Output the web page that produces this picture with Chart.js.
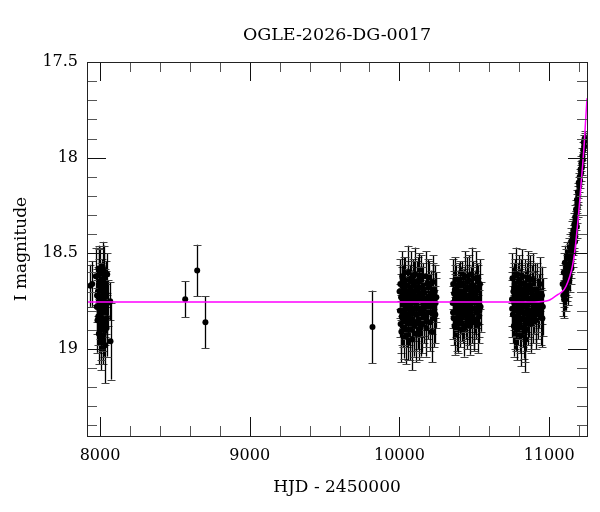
<!DOCTYPE html>
<html>
<head>
<meta charset="utf-8">
<title>OGLE-2026-DG-0017</title>
<script src="https://cdn.jsdelivr.net/npm/chart.js@4.4.1/dist/chart.umd.min.js"></script>
<style>
  html, body { margin: 0; padding: 0; background: #fff; }
  #wrap { width: 600px; height: 512px; }
</style>
</head>
<body>
<div id="wrap"><canvas id="chart"></canvas></div>
<script>
// OGLE photometry, HJD - 2450000 / I mag / error
const hjd = [
  // 2017/18
  7935, 7948, 7972, 7978, 7983, 7986, 7990, 7992, 7995, 7997,
  7999, 8001, 8003, 8005, 8006, 8008, 8010, 8012, 8014, 8015,
  8017, 8019, 8021, 8023, 8025, 8027, 8029, 8031, 8033, 8035,
  8037, 8039, 8042, 8045, 8048, 8050, 8068, 8070,
  7980, 7988, 7994, 8000, 8004, 8009, 8013, 8018, 8024, 8030,
  8036, 8044,
  // sparse
  8569, 8649, 8704, 9820,
  // 2023
  10003, 10006, 10008, 10011, 10013, 10016, 10019, 10021, 10024, 10027,
  10030, 10033, 10036, 10039, 10042, 10045, 10048, 10051, 10054, 10057,
  10060, 10063, 10066, 10069, 10072, 10075, 10078, 10081, 10084, 10087,
  10090, 10093, 10096, 10099, 10102, 10105, 10108, 10111, 10114, 10117,
  10120, 10123, 10126, 10129, 10132, 10135, 10140, 10145, 10150, 10155,
  10160, 10165, 10170, 10175, 10180, 10186, 10192, 10198, 10205, 10212,
  10218, 10224, 10230, 10236, 10242, 10247,
  10001, 10015, 10028, 10044, 10058, 10071, 10083, 10097, 10109, 10121,
  10134, 10142, 10152, 10163, 10177, 10189, 10201, 10215, 10227, 10240,
  // 2024
  10356, 10359, 10362, 10365, 10368, 10371, 10374, 10377, 10380, 10383,
  10386, 10389, 10392, 10395, 10398, 10402, 10406, 10410, 10414, 10418,
  10422, 10426, 10430, 10434, 10438, 10442, 10446, 10450, 10454, 10458,
  10462, 10466, 10470, 10474, 10478, 10482, 10486, 10490, 10494, 10498,
  10502, 10506, 10510, 10514, 10518, 10522, 10526, 10530, 10534, 10538,
  10542,
  10358, 10370, 10382, 10394, 10404, 10416, 10428, 10440, 10452, 10464,
  10476, 10488, 10500, 10516, 10532,
  // 2025
  10752, 10755, 10758, 10761, 10764, 10767, 10770, 10773, 10776, 10779,
  10782, 10785, 10788, 10791, 10794, 10797, 10800, 10803, 10806, 10809,
  10812, 10815, 10818, 10821, 10824, 10827, 10830, 10833, 10836, 10839,
  10842, 10845, 10848, 10851, 10854, 10857, 10860, 10864, 10868, 10872,
  10876, 10880, 10885, 10890, 10895, 10900, 10906, 10912, 10918, 10924,
  10930, 10938, 10945, 10952, 10958,
  10753, 10766, 10778, 10789, 10801, 10813, 10825, 10837, 10849, 10861,
  10870, 10882, 10893, 10904, 10915, 10927, 10942, 10955,
  // 2026 rise
  11090, 11095, 11098, 11102, 11105, 11108, 11111, 11114, 11117, 11120,
  11123, 11126, 11129, 11132, 11135, 11138, 11141, 11144, 11147, 11150,
  11153, 11156, 11159, 11162, 11165, 11168, 11171, 11174, 11177, 11180,
  11183, 11186, 11189, 11192, 11195, 11198, 11201, 11204, 11207, 11210,
  11213, 11216, 11219, 11222, 11225, 11228, 11231, 11234, 11237, 11240,
  11100, 11106, 11112, 11119, 11125, 11131, 11137, 11143, 11149, 11155,
  11161, 11167, 11173, 11179, 11185, 11191
];
const mag = [
  18.67, 18.66, 18.62, 18.78, 18.85, 18.70, 18.58, 18.92, 18.66, 18.80,
  18.74, 18.88, 18.60, 18.83, 18.69, 18.95, 18.77, 18.64, 18.87, 18.72,
  18.57, 18.81, 18.93, 18.68, 18.76, 18.90, 18.62, 18.85, 18.73, 18.98,
  18.66, 18.79, 18.71, 18.84, 18.61, 18.76, 18.75, 18.96,
  18.72, 18.83, 18.61, 18.78, 18.90, 18.67, 18.75, 18.86, 18.59, 18.80,
  18.70, 18.89,
  18.74, 18.59, 18.86, 18.885,
  18.80, 18.66, 18.87, 18.73, 18.91, 18.70, 18.62, 18.84, 18.76, 18.68,
  18.89, 18.74, 18.81, 18.64, 18.78, 18.93, 18.71, 18.85, 18.67, 18.79,
  18.60, 18.83, 18.75, 18.90, 18.69, 18.77, 18.63, 18.86, 18.72, 18.95,
  18.80, 18.66, 18.74, 18.88, 18.70, 18.61, 18.82, 18.76, 18.92, 18.68,
  18.79, 18.65, 18.85, 18.73, 18.90, 18.71, 18.80, 18.64, 18.87, 18.75,
  18.69, 18.83, 18.77, 18.62, 18.89, 18.74, 18.81, 18.67, 18.86, 18.72,
  18.78, 18.65, 18.84, 18.70, 18.76, 18.73,
  18.70, 18.83, 18.65, 18.77, 18.90, 18.72, 18.80, 18.67, 18.86, 18.74,
  18.63, 18.88, 18.71, 18.79, 18.84, 18.66, 18.75, 18.91, 18.69, 18.82,
  18.76, 18.66, 18.84, 18.71, 18.88, 18.74, 18.64, 18.80, 18.69, 18.86,
  18.77, 18.72, 18.82, 18.67, 18.78, 18.74, 18.85, 18.70, 18.79, 18.66,
  18.83, 18.75, 18.89, 18.71, 18.62, 18.81, 18.77, 18.68, 18.86, 18.73,
  18.80, 18.64, 18.78, 18.88, 18.70, 18.61, 18.83, 18.74, 18.67, 18.85,
  18.79, 18.72, 18.63, 18.81, 18.76, 18.69, 18.87, 18.74, 18.80, 18.66,
  18.78,
  18.81, 18.69, 18.75, 18.87, 18.66, 18.82, 18.72, 18.78, 18.65, 18.84,
  18.76, 18.70, 18.86, 18.68, 18.83,
  18.74, 18.63, 18.82, 18.70, 18.88, 18.76, 18.66, 18.85, 18.72, 18.79,
  18.61, 18.90, 18.74, 18.68, 18.83, 18.77, 18.64, 18.87, 18.71, 18.80,
  18.93, 18.69, 18.76, 18.62, 18.84, 18.73, 18.89, 18.78, 18.66, 18.81,
  18.95, 18.72, 18.86, 18.68, 18.77, 18.63, 18.83, 18.74, 18.80, 18.67,
  18.87, 18.75, 18.70, 18.82, 18.64, 18.78, 18.73, 18.85, 18.69, 18.80,
  18.75, 18.66, 18.83, 18.72, 18.78,
  18.79, 18.68, 18.86, 18.73, 18.81, 18.66, 18.77, 18.91, 18.70, 18.80,
  18.64, 18.85, 18.74, 18.69, 18.82, 18.77, 18.71, 18.84,
  18.66, 18.72, 18.60, 18.68, 18.55, 18.70, 18.63, 18.58, 18.66, 18.52,
  18.61, 18.56, 18.64, 18.50, 18.58, 18.53, 18.47, 18.55, 18.44, 18.50,
  18.46, 18.40, 18.45, 18.38, 18.41, 18.35, 18.37, 18.31, 18.33, 18.27,
  18.29, 18.22, 18.24, 18.18, 18.20, 18.13, 18.15, 18.10, 18.12, 18.06,
  18.08, 18.03, 18.05, 17.99, 18.01, 17.96, 17.92, 17.94, 17.90, 17.91,
  18.74, 18.65, 18.70, 18.60, 18.68, 18.57, 18.62, 18.52, 18.58, 18.48,
  18.50, 18.42, 18.44, 18.34, 18.36, 18.26
];
const magErr = [
  0.11, 0.12, 0.15, 0.14, 0.17, 0.13, 0.12, 0.16, 0.13, 0.15,
  0.11, 0.14, 0.13, 0.12, 0.10, 0.16, 0.12, 0.11, 0.14, 0.12,
  0.13, 0.13, 0.15, 0.11, 0.12, 0.14, 0.12, 0.13, 0.11, 0.20,
  0.12, 0.13, 0.12, 0.13, 0.11, 0.12, 0.10, 0.20,
  0.14, 0.15, 0.13, 0.13, 0.16, 0.12, 0.13, 0.15, 0.13, 0.14,
  0.12, 0.15,
  0.095, 0.135, 0.135, 0.19,
  0.14, 0.13, 0.15, 0.12, 0.16, 0.13, 0.13, 0.15, 0.13, 0.12,
  0.16, 0.13, 0.14, 0.12, 0.14, 0.15, 0.13, 0.14, 0.13, 0.14,
  0.14, 0.15, 0.13, 0.16, 0.13, 0.14, 0.14, 0.15, 0.13, 0.16,
  0.14, 0.13, 0.14, 0.16, 0.13, 0.14, 0.14, 0.13, 0.15, 0.14,
  0.14, 0.13, 0.15, 0.13, 0.16, 0.14, 0.14, 0.13, 0.15, 0.13,
  0.14, 0.14, 0.13, 0.13, 0.15, 0.13, 0.14, 0.13, 0.15, 0.13,
  0.14, 0.14, 0.15, 0.14, 0.13, 0.13,
  0.14, 0.15, 0.13, 0.14, 0.16, 0.13, 0.14, 0.13, 0.15, 0.14,
  0.13, 0.16, 0.14, 0.14, 0.15, 0.13, 0.14, 0.16, 0.14, 0.15,
  0.13, 0.13, 0.14, 0.12, 0.15, 0.13, 0.12, 0.14, 0.13, 0.15,
  0.13, 0.13, 0.14, 0.12, 0.13, 0.13, 0.14, 0.13, 0.13, 0.12,
  0.14, 0.13, 0.15, 0.13, 0.13, 0.14, 0.13, 0.12, 0.14, 0.13,
  0.14, 0.13, 0.13, 0.15, 0.13, 0.14, 0.14, 0.13, 0.13, 0.15,
  0.13, 0.13, 0.14, 0.14, 0.13, 0.13, 0.15, 0.13, 0.14, 0.13,
  0.13,
  0.14, 0.13, 0.13, 0.15, 0.12, 0.14, 0.13, 0.13, 0.13, 0.14,
  0.13, 0.13, 0.15, 0.13, 0.14,
  0.14, 0.13, 0.15, 0.13, 0.16, 0.14, 0.13, 0.15, 0.13, 0.14,
  0.14, 0.16, 0.13, 0.13, 0.15, 0.14, 0.13, 0.15, 0.13, 0.14,
  0.16, 0.13, 0.14, 0.14, 0.15, 0.13, 0.16, 0.14, 0.13, 0.15,
  0.17, 0.13, 0.15, 0.13, 0.14, 0.14, 0.15, 0.13, 0.14, 0.13,
  0.15, 0.13, 0.14, 0.15, 0.14, 0.14, 0.14, 0.15, 0.14, 0.15,
  0.14, 0.14, 0.15, 0.15, 0.15,
  0.15, 0.13, 0.15, 0.14, 0.14, 0.13, 0.14, 0.16, 0.13, 0.15,
  0.13, 0.15, 0.14, 0.14, 0.15, 0.14, 0.14, 0.15,
  0.10, 0.11, 0.10, 0.10, 0.09, 0.10, 0.09, 0.10, 0.09, 0.08,
  0.09, 0.08, 0.09, 0.08, 0.08, 0.08, 0.07, 0.08, 0.07, 0.07,
  0.07, 0.07, 0.06, 0.06, 0.06, 0.06, 0.06, 0.06, 0.05, 0.05,
  0.05, 0.05, 0.05, 0.05, 0.05, 0.05, 0.05, 0.04, 0.04, 0.04,
  0.04, 0.04, 0.04, 0.04, 0.04, 0.04, 0.04, 0.04, 0.04, 0.04,
  0.10, 0.10, 0.10, 0.09, 0.09, 0.09, 0.08, 0.08, 0.08, 0.07,
  0.07, 0.07, 0.06, 0.06, 0.06, 0.05
];

// model curve
const modelHjd = [7913, 10900, 11000, 11022, 11060, 11100, 11125, 11149, 11162, 11173,
                  11185, 11195, 11205, 11215, 11225, 11235, 11245, 11253];
const modelMag = [18.755, 18.754, 18.745, 18.735, 18.715, 18.69, 18.65, 18.59, 18.54, 18.48,
                  18.39, 18.31, 18.22, 18.12, 18.03, 17.92, 17.79, 17.69];

// axes
const xRange = [7913, 11253];
const yRange = [17.5, 19.455];
const xMajorTicks = [8000, 9000, 10000, 11000];
const xMinorTicks = [8200, 8400, 8600, 8800, 9200, 9400, 9600, 9800,
                     10200, 10400, 10600, 10800, 11200];
const yMajorTicks = [17.5, 18, 18.5, 19];
const yMinorTicks = [17.6, 17.7, 17.8, 17.9, 18.1, 18.2, 18.3, 18.4,
                     18.6, 18.7, 18.8, 18.9, 19.1, 19.2, 19.3, 19.4];

const FONT = "'DejaVu Serif', 'Liberation Serif', serif";

var points = hjd.map(function (x, i) { return { x: x, y: mag[i] }; });
var model = modelHjd.map(function (x, i) { return { x: x, y: modelMag[i] }; });

// error bars under the points
const errorBars = {
  id: "errorBars",
  beforeDatasetsDraw(chart) {
    const ctx = chart.ctx, xs = chart.scales.x, ys = chart.scales.y, a = chart.chartArea;
    ctx.save();
    ctx.beginPath();
    ctx.rect(a.left, a.top, a.right - a.left, a.bottom - a.top);
    ctx.clip();
    for (let i = 0; i < hjd.length; i++) {
      const px = Math.round(xs.getPixelForValue(hjd[i])) + 0.5;
      const y1 = ys.getPixelForValue(mag[i] - magErr[i]);
      const y2 = ys.getPixelForValue(mag[i] + magErr[i]);
      ctx.lineWidth = 1.3;
      ctx.strokeStyle = "#000";
      ctx.beginPath();
      ctx.moveTo(px, y1);
      ctx.lineTo(px, y2);
      ctx.stroke();
      ctx.lineWidth = 1;
      ctx.strokeStyle = "#444";
      ctx.beginPath();
      ctx.moveTo(px - 4, Math.round(y1) + 0.5);
      ctx.lineTo(px + 4, Math.round(y1) + 0.5);
      ctx.moveTo(px - 4, Math.round(y2) + 0.5);
      ctx.lineTo(px + 4, Math.round(y2) + 0.5);
      ctx.stroke();
    }
    ctx.restore();
  }
};

// box, inward ticks on all four sides, title
const frame = {
  id: "frame",
  afterDraw(chart) {
    const ctx = chart.ctx, xs = chart.scales.x, ys = chart.scales.y, a = chart.chartArea;
    ctx.save();
    ctx.lineWidth = 1;

    function xTick(v, len, color) {
      const px = Math.round(xs.getPixelForValue(v)) + 0.5;
      ctx.strokeStyle = color;
      ctx.beginPath();
      ctx.moveTo(px, a.bottom); ctx.lineTo(px, a.bottom - len);
      ctx.moveTo(px, a.top); ctx.lineTo(px, a.top + len);
      ctx.stroke();
    }
    function yTick(v, len, color) {
      const py = Math.round(ys.getPixelForValue(v)) + 0.5;
      ctx.strokeStyle = color;
      ctx.beginPath();
      ctx.moveTo(a.left, py); ctx.lineTo(a.left + len, py);
      ctx.moveTo(a.right, py); ctx.lineTo(a.right - len, py);
      ctx.stroke();
    }
    xMinorTicks.forEach(function (v) { xTick(v, 10, "#555"); });
    xMajorTicks.forEach(function (v) { xTick(v, 19, "#111"); });
    yMinorTicks.forEach(function (v) { yTick(v, 10, "#555"); });
    yMajorTicks.forEach(function (v) { yTick(v, 19, "#111"); });

    ctx.strokeStyle = "#222";
    ctx.strokeRect(Math.round(a.left) + 0.5, Math.round(a.top) + 0.5,
                   Math.round(a.right - a.left), Math.round(a.bottom - a.top));

    ctx.fillStyle = "#000";
    ctx.font = "17.5px " + FONT;
    ctx.textAlign = "center";
    ctx.textBaseline = "middle";
    ctx.fillText("OGLE-2026-DG-0017", (a.left + a.right) / 2, 35);
    ctx.restore();
  }
};

var ctx = document.getElementById("chart").getContext("2d");
var myChart = new Chart(ctx, {
  type: "scatter",
  data: {
    datasets: [
      {
        type: "line",
        label: "model",
        data: model,
        borderColor: "#ff00ff",
        borderWidth: 1.5,
        pointRadius: 0,
        fill: false,
        cubicInterpolationMode: "monotone",
        order: 0,
      },
      {
        label: "OGLE I",
        data: points,
        backgroundColor: "#000",
        borderWidth: 0,
        pointRadius: 3,
        order: 1,
      },
    ],
  },
  options: {
    responsive: true,
    maintainAspectRatio: false,
    animation: false,
    layout: { padding: { top: 62, right: 13, left: 0, bottom: 0 } },
    plugins: {
      legend: { display: false },
      tooltip: { enabled: false },
      title: { display: false },
    },
    scales: {
      x: {
        type: "linear",
        min: xRange[0],
        max: xRange[1],
        grid: { display: false, drawTicks: false },
        border: { display: false },
        afterFit: function (scale) { scale.height = 76; },
        afterBuildTicks: function (scale) {
          scale.ticks = xMajorTicks.map(function (v) { return { value: v }; });
        },
        ticks: {
          padding: 10,
          maxRotation: 0,
          autoSkip: false,
          color: "#000",
          font: { family: FONT, size: 16 },
          callback: function (v) { return String(v); },
        },
        title: {
          display: true,
          text: "HJD - 2450000",
          color: "#000",
          font: { family: FONT, size: 17 },
          padding: { top: 0, bottom: 14 },
        },
      },
      y: {
        type: "linear",
        reverse: true,
        min: yRange[0],
        max: yRange[1],
        grid: { display: false, drawTicks: false },
        border: { display: false },
        afterFit: function (scale) { scale.width = 87; },
        afterBuildTicks: function (scale) {
          scale.ticks = yMajorTicks.map(function (v) { return { value: v }; });
        },
        ticks: {
          padding: 9,
          autoSkip: false,
          color: "#000",
          font: { family: FONT, size: 16 },
          callback: function (v) { return String(v); },
        },
        title: {
          display: true,
          text: "I magnitude",
          color: "#000",
          font: { family: FONT, size: 17 },
          padding: { top: 11, bottom: 0 },
        },
      },
    },
  },
  plugins: [errorBars, frame],
});
</script>
</body>
</html>
